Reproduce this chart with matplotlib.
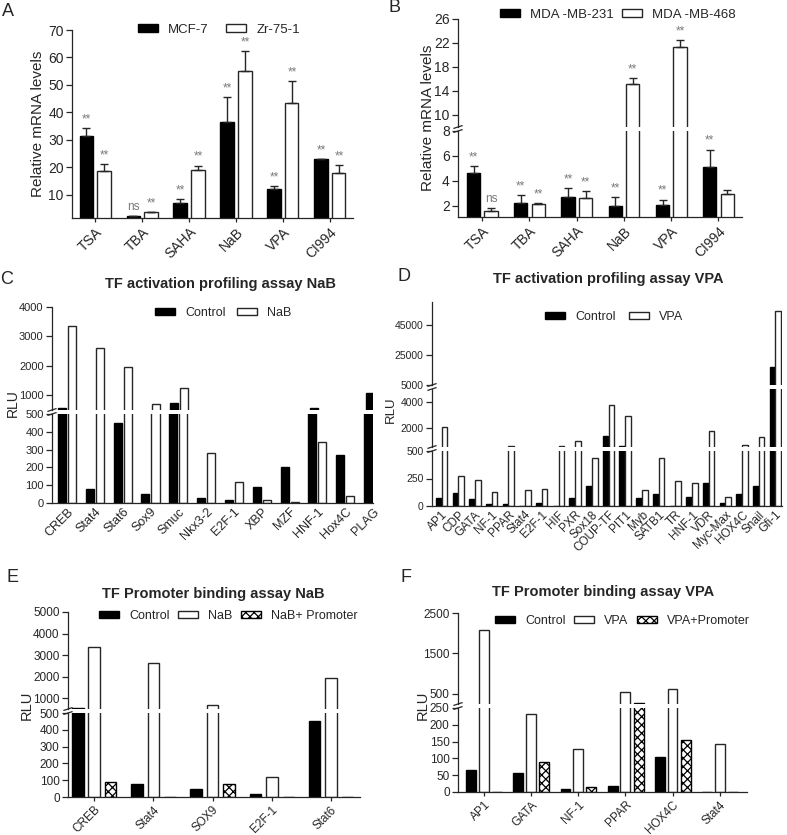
import numpy as np
import matplotlib.pyplot as plt
from matplotlib.lines import Line2D
from matplotlib.patches import Patch

plt.rcParams['font.family'] = ['Liberation Sans', 'DejaVu Sans']
plt.rcParams['hatch.linewidth'] = 0.9

W, H = 787, 835
INK = '#262626'
GREY = '#7a7a7a'

# ---------------- data ----------------
drugs = ['TSA', 'TBA', 'SAHA', 'NaB', 'VPA', 'CI994']
mcf7 = [31.5, 2.5, 7.2, 36.7, 12.2, 23.0]
mcf7_err = [2.8, 0, 1.2, 8.9, 1.1, 0]
mcf7_sig = ['**', 'ns', '**', '**', '**', '**']
zr751 = [18.8, 3.8, 18.9, 55.1, 43.6, 17.9]
zr751_err = [2.4, 0, 1.8, 7.3, 7.9, 3.0]
zr751_sig = ['**', '**', '**', '**', '**', '**']

mda231 = [4.6, 2.24, 2.7, 2.0, 2.05, 5.1]
mda231_err = [0.6, 0.64, 0.7, 0.7, 0.45, 1.4]
mda231_sig = ['**', '**', '**', '**', '**', '**']
mda468 = [1.6, 2.16, 2.63, 15.2, 21.4, 2.96]
mda468_err = [0.2, 0.08, 0.52, 0.9, 1.1, 0.32]
mda468_sig = ['ns', '**', '**', '**', '**', '']

tf_nab = ['CREB', 'Stat4', 'Stat6', 'Sox9', 'Smuc', 'Nkx3-2', 'E2F-1', 'XBP', 'MZF',
          'HNF-1', 'Hox4C', 'PLAG']
ctrl_nab = [570, 81, 450, 51, 742, 26, 19, 88, 203, 573, 268, 1079]
nab_act = [3360, 2618, 1977, 708, 1247, 280, 120, 15, 7, 345, 41, 0]

tf_vpa = ['AP1', 'CDP', 'GATA', 'NF-1', 'PPAR', 'Stat4', 'E2F-1', 'HIF', 'PXR', 'Sox18',
          'COUP-TF', 'PIT1', 'Myb', 'SATB1', 'TR', 'HNF-1', 'VDR', 'Myc-Max', 'HOX4C',
          'Snail', 'Gfi-1']
ctrl_vpa = [70, 116, 61, 15, 18, 0, 24, 0, 76, 186, 1359, 590, 70, 107, 0, 82, 213, 30,
            107, 186, 16600]
vpa_act = [2077, 274, 238, 131, 600, 146, 155, 600, 975, 436, 3795, 2923, 146, 436, 223,
           207, 1770, 85, 640, 1256, 53800]

prom_nab_tf = ['CREB', 'Stat4', 'SOX9', 'E2F-1', 'Stat6']
prom_nab_ctrl = [560, 80, 50, 18, 450]
prom_nab_nab = [3385, 2646, 692, 120, 1954]
prom_nab_prom = [90, 0, 80, 0, 0]

prom_vpa_tf = ['AP1', 'GATA', 'NF-1', 'PPAR', 'HOX4C', 'Stat4']
prom_vpa_ctrl = [64, 56, 9, 17, 104, 0]
prom_vpa_vpa = [2070, 233, 128, 541, 632, 144]
prom_vpa_prom = [0, 88, 15, 270, 155, 0]

fig = plt.figure(figsize=(W / 100, H / 100), dpi=100)


def fx(x):
    return x / W


def fy(y):
    return 1 - y / H


def broken(x0, x1, segs, xlim, fs):
    # segs top to bottom: (ytop_px, ybot_px, lo, hi, ticks)
    axs = []
    for i, (yt, yb, lo, hi, ticks) in enumerate(segs):
        ax = fig.add_axes([fx(x0), fy(yb), (x1 - x0) / W, (yb - yt) / H])
        ax.set_facecolor('none')
        ax.set_xlim(*xlim)
        ax.set_ylim(lo, hi)
        ax.set_yticks(ticks)
        ax.spines['top'].set_visible(False)
        ax.spines['right'].set_visible(False)
        for s in ['left', 'bottom']:
            ax.spines[s].set_color(INK)
            ax.spines[s].set_linewidth(0.9)
        ax.tick_params(colors=INK, labelsize=fs, length=4, width=0.9, pad=2)
        if i < len(segs) - 1:
            ax.spines['bottom'].set_visible(False)
            ax.tick_params(axis='x', bottom=False, labelbottom=False)
        axs.append(ax)
    for a, b in zip(segs[:-1], segs[1:]):
        for y in (a[1], b[0]):
            fig.add_artist(Line2D([fx(x0 - 4), fx(x0 + 4)], [fy(y + 1.3), fy(y - 1.3)],
                                  color=INK, lw=0.9))
    return axs


def bars(axs, xs, vals, kind, width, err=None):
    if kind == 'black':
        kw = dict(color='black', edgecolor='black')
    elif kind == 'white':
        kw = dict(color='white', edgecolor=INK)
    else:
        kw = dict(color='white', edgecolor='black', hatch='xxxx')
    for ax in axs:
        ax.bar(xs, vals, width, linewidth=1.0, zorder=2, **kw)
        if err is not None:
            ax.errorbar(xs, vals, yerr=[np.zeros(len(vals)), err], fmt='none',
                        ecolor=INK, elinewidth=1.0, capsize=3, capthick=1.0, zorder=3)


def stars(axs, xs, tops, sigs):
    for x, t, s in zip(xs, tops, sigs):
        if not s:
            continue
        ax = axs[-1]
        for a in axs:
            lo, hi = a.get_ylim()
            if lo <= t <= hi:
                ax = a
                break
        ax.annotate(s, (x, t), xytext=(0, 2), textcoords='offset points', ha='center',
                    va='bottom', fontsize=8.5, color=GREY)


def xlabels(ax, cats, fs):
    ax.set_xticks(np.arange(len(cats)))
    ax.set_xticklabels(cats, rotation=45, ha='right', rotation_mode='anchor', fontsize=fs)
    ax.tick_params(axis='x', length=3)


def legend(ax, labels, kinds, x, y, fs, colsp, hl=1.6):
    hs = []
    for k in kinds:
        if k == 'black':
            hs.append(Patch(facecolor='black', edgecolor='black'))
        elif k == 'white':
            hs.append(Patch(facecolor='white', edgecolor=INK))
        else:
            hs.append(Patch(facecolor='white', edgecolor='black', hatch='xxxx'))
    ax.legend(hs, labels, loc='center left', bbox_to_anchor=(fx(x), fy(y)),
              bbox_transform=fig.transFigure, ncol=len(labels), frameon=False, fontsize=fs,
              handlelength=hl, handleheight=0.55, handletextpad=0.8, columnspacing=colsp,
              borderpad=0, borderaxespad=0, labelcolor=INK)


def panel_text(x, y, s, size=11, **kw):
    fig.text(fx(x), fy(y), s, fontsize=size, color=INK, ha='center', va='center', **kw)


# ---------------- A ----------------
x = np.arange(len(drugs))
axA = broken(72, 353, [(30, 218, 1.6, 70, [10, 20, 30, 40, 50, 60, 70])], (-0.49, 5.49), 10)
bars(axA, x - 0.19, mcf7, 'black', 0.28, mcf7_err)
bars(axA, x + 0.19, zr751, 'white', 0.28, zr751_err)
stars(axA, x - 0.19, np.add(mcf7, mcf7_err), mcf7_sig)
stars(axA, x + 0.19, np.add(zr751, zr751_err), zr751_sig)
xlabels(axA[-1], drugs, 10)
legend(axA[0], ['MCF-7', 'Zr-75-1'], ['black', 'white'], 138, 30, 9.5, 1.3, 1.5)
panel_text(38, 124, 'Relative mRNA levels', 11, rotation=90)
panel_text(8, 12, 'A', 13)

# ---------------- B ----------------
axB = broken(458, 742, [(19, 127, 8, 26, [10, 14, 18, 22, 26]),
                        (131, 217, 1.1, 8, [2, 4, 6, 8])], (-0.51, 5.5), 10)
bars(axB, x - 0.18, mda231, 'black', 0.28, mda231_err)
bars(axB, x + 0.19, mda468, 'white', 0.28, mda468_err)
stars(axB, x - 0.18, np.add(mda231, mda231_err), mda231_sig)
stars(axB, x + 0.19, np.add(mda468, mda468_err), mda468_sig)
xlabels(axB[-1], drugs, 10)
legend(axB[0], ['MDA -MB-231', 'MDA -MB-468'], ['black', 'white'], 500, 15, 9.5, 0.6, 1.5)
panel_text(428, 118, 'Relative mRNA levels', 11, rotation=90)
panel_text(394, 8, 'B', 13)

# ---------------- C ----------------
xc = np.arange(len(tf_nab))
axC = broken(52, 373, [(307, 410, 500, 4000, [1000, 2000, 3000, 4000]),
                       (414, 503, 0, 500, [0, 100, 200, 300, 400, 500])], (-0.54, 10.93), 8)
bars(axC, xc - 0.18, ctrl_nab, 'black', 0.29)
bars(axC, xc + 0.18, nab_act, 'white', 0.29)
xlabels(axC[-1], tf_nab, 9)
axC[-1].tick_params(axis='x', length=0)
legend(axC[0], ['Control', 'NaB'], ['black', 'white'], 155, 313, 9, 0.9)
panel_text(13, 403, 'RLU', 10, rotation=90)
panel_text(220, 284, 'TF activation profiling assay NaB', 10.5, fontweight='bold')
panel_text(7, 279, 'C', 13)

# ---------------- D ----------------
xd = np.arange(len(tf_vpa))
axD = broken(432, 782, [(302, 385, 5000, 60000, [5000, 25000, 45000]),
                        (389, 447, 500, 5000, [2000, 4000]),
                        (451, 506, 0, 500, [0, 250, 500])], (-0.57, 20.4), 7.5)
bars(axD, xd - 0.17, ctrl_vpa, 'black', 0.34)
bars(axD, xd + 0.18, vpa_act, 'white', 0.34)
xlabels(axD[-1], tf_vpa, 8.5)
axD[-1].tick_params(axis='x', length=0)
legend(axD[0], ['Control', 'VPA'], ['black', 'white'], 545, 317, 9, 1.1)
panel_text(391, 410, 'RLU', 9.5, rotation=90)
panel_text(608, 279, 'TF activation profiling assay VPA', 10.5, fontweight='bold')
panel_text(404, 276, 'D', 13)

# ---------------- E ----------------
xe = np.arange(len(prom_nab_tf))
axE = broken(68, 360, [(612, 709, 500, 5000, [1000, 2000, 3000, 4000, 5000]),
                       (713, 797, 0, 500, [0, 100, 200, 300, 400, 500])], (-0.44, 4.49), 8.5)
bars(axE, xe - 0.275, prom_nab_ctrl, 'black', 0.195)
bars(axE, xe, prom_nab_nab, 'white', 0.195)
bars(axE, xe + 0.28, prom_nab_prom, 'hatch', 0.195)
xlabels(axE[-1], prom_nab_tf, 8.5)
legend(axE[0], ['Control', 'NaB', 'NaB+ Promoter'], ['black', 'white', 'hatch'], 99, 616, 9, 0.7)
panel_text(27, 705, 'RLU', 10.5, rotation=90)
panel_text(213, 594, 'TF Promoter binding assay NaB', 10.5, fontweight='bold')
panel_text(12, 577, 'E', 13)

# ---------------- F ----------------
xf = np.arange(len(prom_vpa_tf))
axF = broken(458, 747, [(613, 704, 250, 2500, [500, 1500, 2500]),
                        (708, 792, 0, 250, [0, 50, 100, 150, 200, 250])], (-0.55, 5.58), 8.5)
bars(axF, xf - 0.27, prom_vpa_ctrl, 'black', 0.21)
bars(axF, xf, prom_vpa_vpa, 'white', 0.21)
bars(axF, xf + 0.28, prom_vpa_prom, 'hatch', 0.21)
xlabels(axF[-1], prom_vpa_tf, 8.5)
legend(axF[0], ['Control', 'VPA', 'VPA+Promoter'], ['black', 'white', 'hatch'], 495, 621, 9, 0.7)
panel_text(423, 705, 'RLU', 10.5, rotation=90)
panel_text(603, 592, 'TF Promoter binding assay VPA', 10.5, fontweight='bold')
panel_text(406, 577, 'F', 13)

fig.savefig('out.png', dpi=100)
